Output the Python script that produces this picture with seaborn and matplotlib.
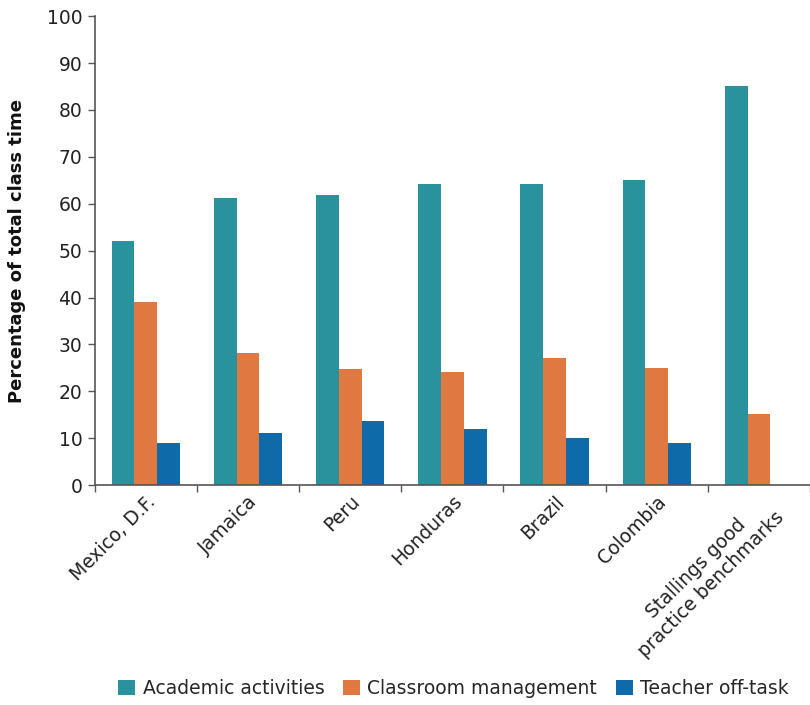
import matplotlib
matplotlib.use("Agg")
import matplotlib.pyplot as plt
import seaborn as sns
import pandas as pd
import numpy as np

categories = ["Mexico, D.F.", "Jamaica", "Peru", "Honduras", "Brazil", "Colombia",
              "Stallings good\npractice benchmarks"]
academic = [52.0, 61.2, 61.8, 64.2, 64.2, 65.0, 85.1]
management = [39.0, 28.1, 24.7, 24.1, 27.1, 24.9, 15.1]
off_task = [9.0, 11.1, 13.6, 11.9, 10.0, 9.0, np.nan]
series = ["Academic activities", "Classroom management", "Teacher off-task"]
colors = ["#2A929C", "#E07841", "#0F6AAA"]
yticks = [0, 10, 20, 30, 40, 50, 60, 70, 80, 90, 100]

df = pd.DataFrame({
    "Category": categories * 3,
    "Series": [series[0]] * 7 + [series[1]] * 7 + [series[2]] * 7,
    "Value": academic + management + off_task,
})

sns.set_style("white")
plt.rcParams["font.family"] = ["DejaVu Sans"]
FS = 13.5

fig = plt.figure(figsize=(8.10, 7.05), dpi=100)
ax = fig.add_axes([0.117, 0.312, 0.883, 0.665])

sns.barplot(data=df, x="Category", y="Value", hue="Series", hue_order=series,
            order=categories, palette=colors, width=0.67, saturation=1,
            linewidth=0, ax=ax, legend=True)

ax.set_xlim(-0.5, 6.5)
ax.set_ylim(0, 100)
ax.set_yticks(yticks)
ax.set_yticklabels([str(t) for t in yticks], fontsize=FS, color="#222222")
ax.set_ylabel("Percentage of total class time", fontsize=13, fontweight="bold",
              color="#111111", labelpad=15)
ax.set_xlabel("")

ax.set_xticks(range(len(categories)))
ax.set_xticklabels(categories, rotation=45, ha="right", rotation_mode="anchor",
                   fontsize=FS, color="#222222", multialignment="center")
ax.tick_params(axis="x", which="major", length=0, pad=5)
ax.set_xticks(np.arange(-0.5, 7.0, 1.0), minor=True)
ax.tick_params(axis="x", which="minor", length=5, width=1, color="#555555", direction="out", bottom=True)
ax.tick_params(axis="y", length=5, width=1, color="#555555", direction="out", left=True, pad=4)

for s in ["top", "right"]:
    ax.spines[s].set_visible(False)
for s in ["left", "bottom"]:
    ax.spines[s].set_color("#555555")
    ax.spines[s].set_linewidth(1.2)

handles, labels = ax.get_legend_handles_labels()
ax.legend_.remove()
fig.legend(handles, labels, loc="lower center", bbox_to_anchor=(0.56, -0.014),
           ncol=3, frameon=False, fontsize=FS, handlelength=0.9, handleheight=0.9,
           handletextpad=0.4, columnspacing=1.0)

fig.savefig("out.png", dpi=100)
